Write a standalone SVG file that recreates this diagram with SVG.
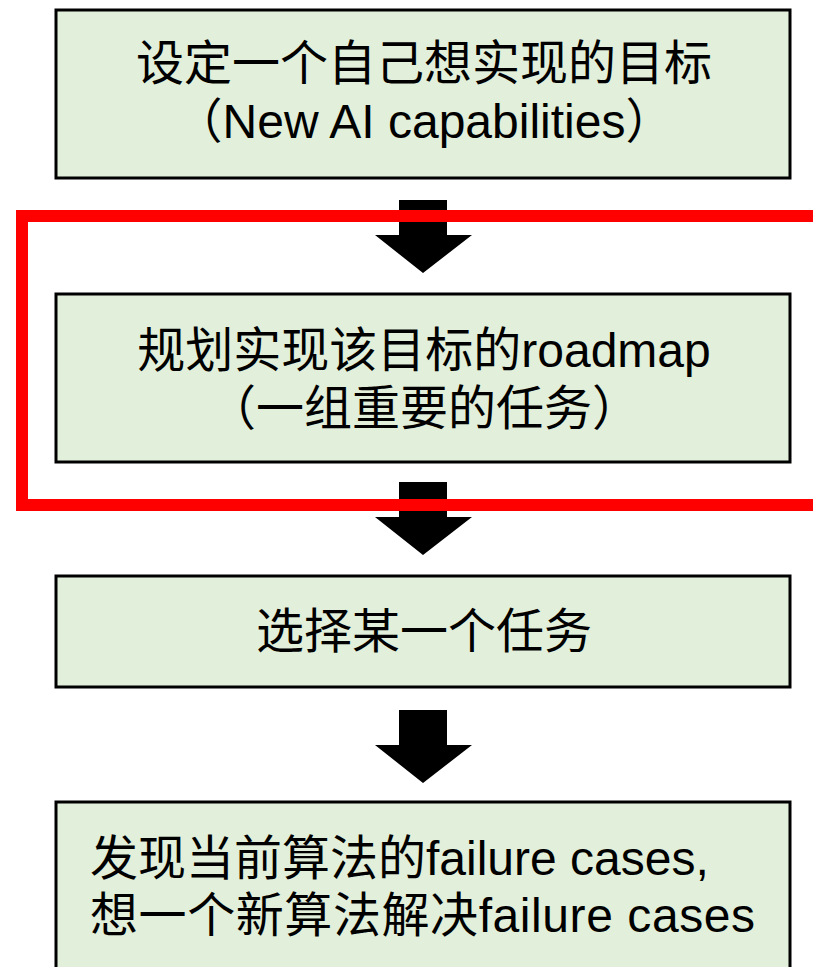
<svg xmlns="http://www.w3.org/2000/svg" width="813" height="967" viewBox="0 0 813 967">
<style>
.box{fill:#E2EFDA;stroke:#000;stroke-width:3}
.t{font-family:"Liberation Sans","Noto Sans CJK SC",sans-serif;font-size:48px;fill:#000;text-anchor:middle}
.l{text-anchor:start}
.arr{fill:#000}
</style>
<rect width="813" height="967" fill="#fff"/>
<g id="n1"><rect class="box" x="56" y="10" width="734" height="168"/>
<text class="t" x="424" y="80">设定一个自己想实现的目标</text>
<text class="t" x="424" y="138">（New AI capabilities）</text></g>
<g id="n2"><rect class="box" x="56" y="294" width="734" height="168"/>
<text class="t" x="424" y="367">规划实现该目标的roadmap</text>
<text class="t" x="424" y="425">（一组重要的任务）</text></g>
<g id="n3"><rect class="box" x="56" y="576" width="734" height="111"/>
<text class="t" x="424" y="648">选择某一个任务</text></g>
<g id="n4"><rect class="box" x="56" y="802" width="734" height="180"/>
<text class="t l" x="90" y="875">发现当前算法的failure cases,</text>
<text class="t l" x="90" y="932" textLength="665">想一个新算法解决failure cases</text></g>
<g id="connectors">
<polygon class="arr" points="399,200 447,200 447,235 472,235 423,273 375,235 399,235"/>
<polygon class="arr" points="399,482 447,482 447,517 472,517 423,555 375,517 399,517"/>
<polygon class="arr" points="399,710 447,710 447,745 472,745 423,783 375,745 399,745"/>
</g>
<path d="M813,216 H22 V505 H813" fill="none" stroke="#FF0000" stroke-width="12"/>
</svg>
